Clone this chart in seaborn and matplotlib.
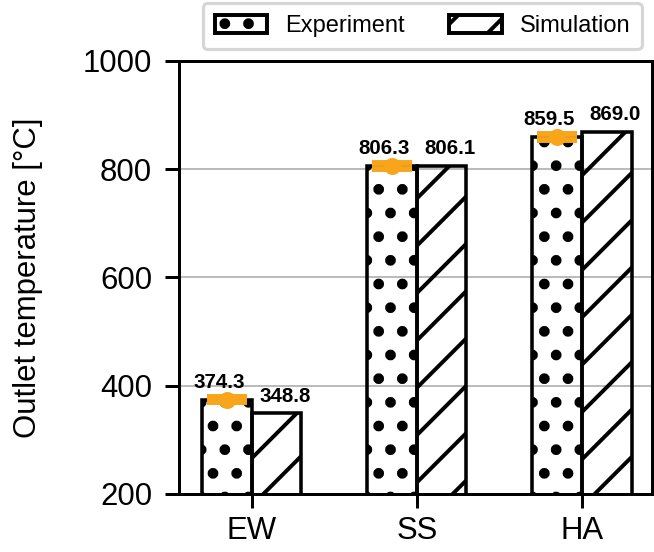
import matplotlib
matplotlib.use('Agg')
import matplotlib.pyplot as plt
import matplotlib.patches as mpatches
import seaborn as sns
import pandas as pd
import numpy as np

# Outlet temperatures per case
cases = ['EW', 'SS', 'HA']
experiment = [374.3, 806.3, 859.5]
experiment_err = [5.0, 5.0, 5.0]
simulation = [348.8, 806.1, 869.0]

DPI = 284

sns.set_style('ticks')
plt.rcParams['font.family'] = ['Liberation Sans', 'DejaVu Sans']
plt.rcParams['hatch.linewidth'] = 1.0
for k in ['text.color', 'axes.labelcolor', 'xtick.color', 'ytick.color']:
    plt.rcParams[k] = 'black'

df = pd.DataFrame({
    'Case': cases * 2,
    'Source': ['Experiment'] * 3 + ['Simulation'] * 3,
    'Temperature': experiment + simulation,
})

fig = plt.figure(figsize=(654 / DPI, 552 / DPI), dpi=DPI)
ax = fig.add_axes([0.2737, 0.1051, 0.7232, 0.7844])

sns.barplot(data=df, x='Case', y='Temperature', hue='Source',
            palette=['white', 'white'], edgecolor='black', linewidth=0.9,
            width=0.6, gap=0, errorbar=None, legend=False, ax=ax)

hatches = ['..', '//']
hatch_lw = [1.5, 1.0]
for container, h, hlw in zip(ax.containers, hatches, hatch_lw):
    for bar in container:
        bar.set_hatch(h)
        bar.set_facecolor('none')
        if hasattr(bar, 'set_hatch_linewidth'):
            bar.set_hatch_linewidth(hlw)

x = np.arange(len(cases))
ax.errorbar(x - 0.15, experiment, yerr=experiment_err, fmt='o', color='#F8A51C',
            ms=3.3, capsize=5, elinewidth=0.9, capthick=1.5, zorder=5)

for i in range(len(cases)):
    ax.text(i - 0.2, experiment[i] + 14, f'{experiment[i]:.1f}', ha='center',
            va='bottom', fontsize=5.2, fontweight='bold')
    ax.text(i + 0.2, simulation[i] + 14, f'{simulation[i]:.1f}', ha='center',
            va='bottom', fontsize=5.2, fontweight='bold')

ax.set_xlim(-0.442, 2.424)
ax.set_ylim(200, 1000)
ax.set_yticks(range(200, 1001, 200))
ax.yaxis.grid(True, color='#aaaaaa', lw=0.4)
ax.set_axisbelow(True)
ax.set_xlabel('')
ax.set_ylabel('Outlet temperature [°C]', fontsize=7.9, labelpad=10)
ax.tick_params(axis='both', labelsize=7.9, length=3.5, width=0.76, color='black')
ax.tick_params(axis='y', pad=3.3)
ax.tick_params(axis='x', pad=2)
for s in ax.spines.values():
    s.set_visible(True)
    s.set_linewidth(0.76)
    s.set_color('black')

handles = [mpatches.Patch(facecolor='white', edgecolor='black', hatch='..', lw=1.0, label='Experiment'),
           mpatches.Patch(facecolor='white', edgecolor='black', hatch='//', lw=1.0, label='Simulation')]
leg = fig.legend(handles=handles, loc='center', bbox_to_anchor=(0.646, 0.953), ncol=2,
                 fontsize=6.0, handlelength=2.2, handleheight=0.77, handletextpad=0.77,
                 columnspacing=1.9, frameon=True, fancybox=True, borderpad=0.5)
leg.get_frame().set_edgecolor('#cccccc')
leg.get_frame().set_linewidth(0.8)
if hasattr(leg.legend_handles[0], 'set_hatch_linewidth'):
    leg.legend_handles[0].set_hatch_linewidth(1.5)

fig.savefig('out.png', dpi=DPI)
